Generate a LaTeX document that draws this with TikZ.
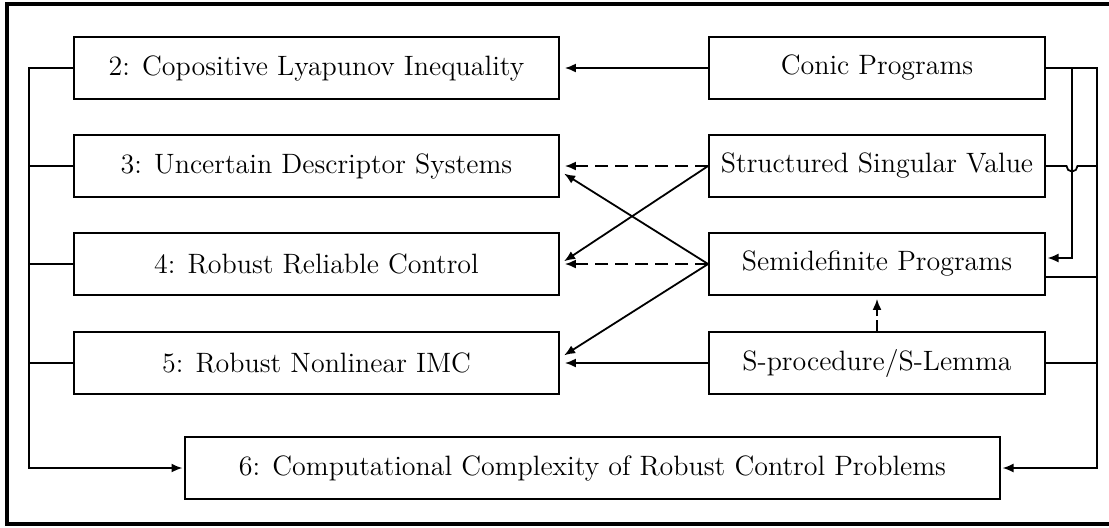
\documentclass[tikz,border=0pt]{standalone}
\usetikzlibrary{arrows.meta,calc}
\begin{document}
\begin{tikzpicture}[x=0.5pt,y=-0.5pt,
  font=\fontsize{14}{16.8}\selectfont,
  box/.style={draw,line width=0.9pt,minimum height=31pt,inner sep=0pt},
  lbox/.style={box,minimum width=242.5pt},
  rbox/.style={box,minimum width=168pt},
  wire/.style={line width=0.9pt},
  tip/.style={-{Latex[length=5.5pt,width=4.5pt]}},
  arr/.style={wire,tip,shorten >=2.5pt},
  sarr/.style={wire,tip,shorten >=0.8pt},
  dsh/.style={arr,dash pattern=on 6.5pt off 3.5pt},
  vdsh/.style={wire,tip,shorten >=1.5pt,dash pattern=on 5.5pt off 2pt}]
\useasboundingbox (0,0) rectangle (1109,527);
% outer frame
\draw[line width=1.6pt] (7,4) rectangle (1120,524);

% chapters
\node[lbox] (b2) at (316.5,68) {2: Copositive Lyapunov Inequality};
\node[lbox] (b3) at (316.5,166) {3: Uncertain Descriptor Systems};
\node[lbox] (b4) at (316.5,264) {4: Robust Reliable Control};
\node[lbox] (b5) at (316.5,363) {5: Robust Nonlinear IMC};
\node[box,minimum width=407.5pt] (b6) at (592.5,468) {6: Computational Complexity of Robust Control Problems};

% tools
\node[rbox] (cp) at (877,68) {Conic Programs};
\node[rbox] (ssv) at (877,166) {Structured Singular Value};
\node[rbox] (sdp) at (877,264) {Semidefinite Programs};
\node[rbox] (sp) at (877,363) {S-procedure/S-Lemma};

% bus lines
\coordinate (lx) at (29,0);
\coordinate (rx) at (1097,0);
\coordinate (bx) at (1072,0);

% tools to chapters
\draw[arr] (cp.west) -- (b2.east);
\draw[dsh] (ssv.west) -- (b3.east);
\draw[arr] (ssv.west) -- (b4.east);
\draw[arr] (sdp.west) -- ($(b3.east)+(0,5)$);
\draw[dsh] (sdp.west) -- (b4.east);
\draw[arr] (sdp.west) -- ($(b5.east)+(0,-5)$);
\draw[arr] (sp.west) -- (b5.east);
\draw[vdsh] (sp.north) -- (sdp.south);

% left bus into chapter 6
\draw[sarr] (b2.west) -- (b2.west -| lx) |- (b6.west);
\draw[wire] (b3.west) -- (b3.west -| lx);
\draw[wire] (b4.west) -- (b4.west -| lx);
\draw[wire] (b5.west) -- (b5.west -| lx);

% right bus into chapter 6
\draw[sarr] (cp.east) -- (cp.east -| rx) |- (b6.east);
\coordinate (sdpin) at ($(sdp.east)+(0,-6)$);
\draw[sarr] (cp.east -| bx) |- (sdpin);
\draw[wire] (ssv.east) -- ($(ssv.east -| bx)+(-5.5,0)$)
  arc[start angle=180,end angle=360,radius=2.75pt] -- (ssv.east -| rx);
\coordinate (sdpout) at ($(sdp.east)+(0,13)$);
\draw[wire] (sdpout) -- (sdpout -| rx);
\draw[wire] (sp.east) -- (sp.east -| rx);
\end{tikzpicture}
\end{document}
